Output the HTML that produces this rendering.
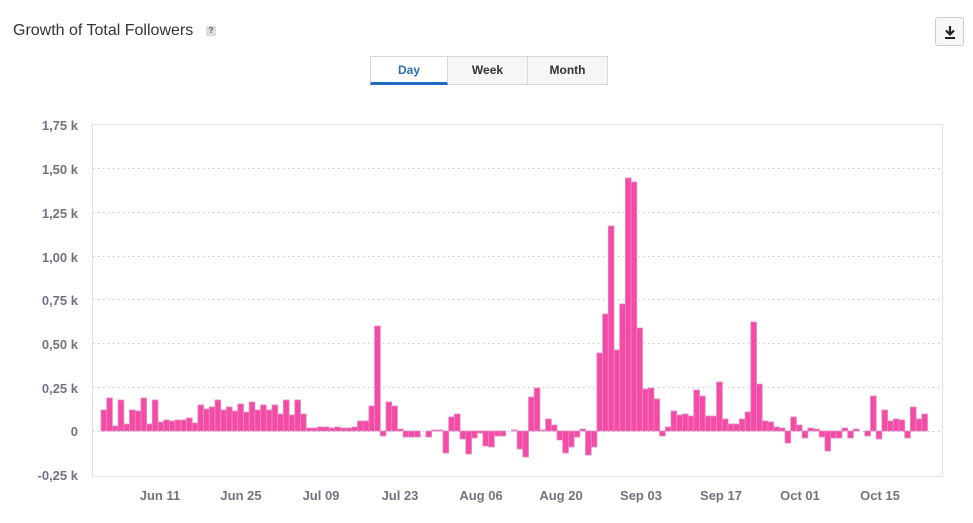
<!DOCTYPE html>
<html><head><meta charset="utf-8"><style>
html,body{margin:0;padding:0;background:#fff;width:973px;height:523px;overflow:hidden;font-family:"Liberation Sans",Arial,sans-serif}
.title{position:absolute;left:13px;top:22px;font-size:16px;color:#333}
.help{position:absolute;left:206px;top:26px;width:10px;height:10px;background:#ddd;font-size:8px;color:#555;text-align:center;line-height:10px;font-weight:bold}
.dl{position:absolute;left:935px;top:17px;width:29px;height:29px;border:1px solid #ccc;border-radius:3px;background:#f7f7f7;box-sizing:border-box}
.btns{position:absolute;left:370px;top:56px;height:29px;display:flex}
.b{box-sizing:border-box;height:29px;border:1px solid #d8d8d8;background:#f5f6f8;font-size:12px;font-weight:bold;color:#333;text-align:center;line-height:27px}
.b.on{background:#fff;color:#2a6db8;border-bottom:3px solid #1f6cc4}
svg{position:absolute;left:0;top:0}
</style></head><body>
<div class="title">Growth of Total Followers</div>
<div class="help">?</div>
<div class="dl"><svg width="29" height="29" style="position:absolute;left:0;top:0"><path d="M14 8v8M10 12.5l4 4 4-4" stroke="#222" stroke-width="2.2" fill="none"/><rect x="9" y="19" width="10" height="2" fill="#222"/></svg></div>
<div class="btns"><div class="b on" style="width:78px">Day</div><div class="b" style="width:80px;border-left:none">Week</div><div class="b" style="width:80px;border-left:none">Month</div></div>
<svg id="c" width="973" height="523" style="pointer-events:none">
<g font-size="13" font-weight="bold" fill="#6f7480" text-anchor="end" font-family="Liberation Sans,Arial,sans-serif">
<text x="78" y="130">1,75 k</text><text x="78" y="174">1,50 k</text><text x="78" y="218">1,25 k</text><text x="78" y="262">1,00 k</text><text x="78" y="305">0,75 k</text><text x="78" y="349">0,50 k</text><text x="78" y="393">0,25 k</text><text x="78" y="436">0</text><text x="78" y="480">-0,25 k</text>
</g>
<g font-size="13" font-weight="bold" fill="#6f7480" text-anchor="middle" font-family="Liberation Sans,Arial,sans-serif">
<text x="160" y="500">Jun 11</text><text x="241" y="500">Jun 25</text><text x="321" y="500">Jul 09</text><text x="400" y="500">Jul 23</text><text x="481" y="500">Aug 06</text><text x="561" y="500">Aug 20</text><text x="641" y="500">Sep 03</text><text x="721" y="500">Sep 17</text><text x="800" y="500">Oct 01</text><text x="880" y="500">Oct 15</text>
</g>
<g stroke="#c8c8c8" stroke-dasharray="1.5,3.5" stroke-width="1">
<line x1="93" x2="942" y1="168.5" y2="168.5"/><line x1="93" x2="942" y1="212.5" y2="212.5"/><line x1="93" x2="942" y1="256.5" y2="256.5"/><line x1="93" x2="942" y1="299.5" y2="299.5"/><line x1="93" x2="942" y1="343.5" y2="343.5"/><line x1="93" x2="942" y1="387.5" y2="387.5"/><line x1="93" x2="942" y1="431.5" y2="431.5"/>
</g>
<rect x="92.5" y="124.5" width="850" height="352" fill="none" stroke="#e2e2e2"/>
<g id="bars" fill="#f64aa6" stroke="#dc8cc4" stroke-width="0.8"></g>
</svg>
<script>
var h=[21,33,5,31,7,21,20,33,7,31,9,11,10,11,11,13,8,26,22,24,31,21,24,20,27,19,29,21,26,21,26,17,31,16,31,17,3,
3,4,4,3,4,3,3,4,10,10,25,105,-5,29,25,2,-6,-6,-6,0,-6,1,1,-22,14,17,-8,-23,-7,-2,-15,-16,-5,-5,0,1,-18,-26,
34,43,1,12,6,-9,-22,-16,-6,2,-24,-16,78,117,205,81,127,253,249,103,42,43,32,-5,4,20,16,17,15,41,35,15,15,49,
12,7,7,12,19,109,47,10,9,4,3,-12,14,6,-7,3,2,-6,-20,-7,-7,3,-7,2,0,-5,35,-8,21,10,12,11,-7,24,12,17];
var g=document.getElementById('bars'),s='';
for(var i=0;i<h.length;i++){var v=h[i];if(!v)continue;var x=101+i*5.7,y=v>0?431-v:431;s+='<rect x="'+x.toFixed(2)+'" y="'+y+'" width="5.7" height="'+Math.abs(v)+'"/>';}
g.innerHTML=s;
</script>
</body></html>
